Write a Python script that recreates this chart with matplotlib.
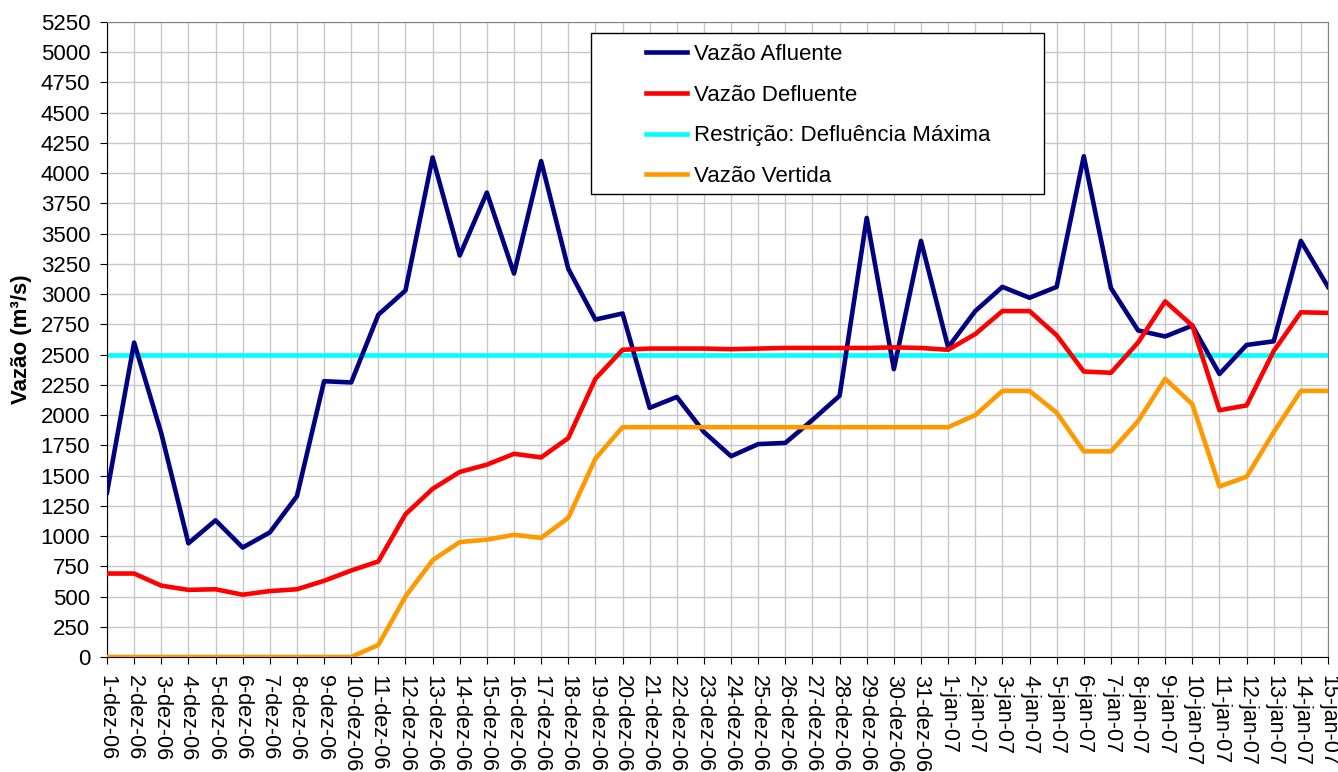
import matplotlib.pyplot as plt
from matplotlib.patches import Rectangle

plt.rcParams['font.family'] = ['Liberation Sans', 'DejaVu Sans']

# datas (1-dez-06 ate 15-jan-07)
datas = [f'{d}-dez-06' for d in range(1, 32)] + [f'{d}-jan-07' for d in range(1, 16)]

afluente = [1360, 2600, 1850, 940, 1130, 905, 1030, 1330, 2280, 2270,
            2830, 3030, 4130, 3320, 3840, 3170, 4100, 3210, 2790, 2840,
            2060, 2150, 1860, 1660, 1760, 1770, 1960, 2160, 3630, 2380,
            3440, 2560, 2860, 3060, 2970, 3060, 4140, 3050, 2700, 2650,
            2740, 2340, 2580, 2610, 3440, 3060]
defluente = [690, 690, 590, 555, 560, 515, 545, 560, 630, 715,
             790, 1180, 1390, 1530, 1590, 1680, 1650, 1810, 2300, 2540,
             2550, 2550, 2550, 2545, 2550, 2555, 2555, 2555, 2555, 2560,
             2555, 2540, 2670, 2860, 2860, 2660, 2360, 2350, 2600, 2940,
             2740, 2040, 2080, 2530, 2850, 2845]
restricao = [2500] * len(datas)
vertida = [0, 0, 0, 0, 0, 0, 0, 0, 0, 0,
           100, 500, 800, 950, 970, 1010, 985, 1150, 1640, 1900,
           1900, 1900, 1900, 1900, 1900, 1900, 1900, 1900, 1900, 1900,
           1900, 1900, 2000, 2200, 2200, 2020, 1700, 1700, 1950, 2300,
           2090, 1410, 1490, 1860, 2200, 2200]

fs = 16

fig = plt.figure(figsize=(13.38, 7.72), dpi=100)
ax = fig.add_axes([107/1338, 1 - 657/772, 1221/1338, 635/772])

x = range(len(datas))
lw = 3.3
ax.plot(x, restricao, color='#00FFFF', lw=lw, label='Restrição: Defluência Máxima', zorder=2)
ax.plot(x, afluente, color='#000080', lw=lw, label='Vazão Afluente', zorder=3)
ax.plot(x, defluente, color='#FF0000', lw=lw, label='Vazão Defluente', zorder=3)
ax.plot(x, vertida, color='#FF9900', lw=lw, label='Vazão Vertida', zorder=3)

ax.set_xlim(0, len(datas) - 1)
ax.set_ylim(0, 5250)
ax.set_yticks(range(0, 5251, 250))
ax.set_xticks(list(x))
ax.set_xticklabels(datas, rotation=270, fontsize=15.5)
ax.tick_params(axis='both', direction='out', length=5, color='black')
ax.tick_params(axis='y', labelsize=fs, pad=7)
ax.tick_params(axis='x', pad=8)
ax.grid(True, color='#c8c8c8', lw=1)
ax.set_axisbelow(True)

ax.spines['top'].set_color('#808080')
ax.spines['right'].set_color('#808080')
ax.set_ylabel('Vazão (m³/s)', fontsize=fs, fontweight='bold', labelpad=6)

# caixa da legenda
ax.add_patch(Rectangle((0.396, 0.729), 0.371, 0.254, transform=ax.transAxes,
                       facecolor='white', edgecolor='black', lw=1, zorder=5))

h, l = ax.get_legend_handles_labels()
ordem = [1, 2, 0, 3]
leg = ax.legend([h[i] for i in ordem], [l[i] for i in ordem],
                loc='upper left', bbox_to_anchor=(0.4414, 0.9657), fontsize=fs,
                frameon=False, borderpad=0, labelspacing=0.89, handlelength=1.85,
                borderaxespad=0, handletextpad=0.3)
leg.set_zorder(6)

fig.savefig('out.png', dpi=100)
